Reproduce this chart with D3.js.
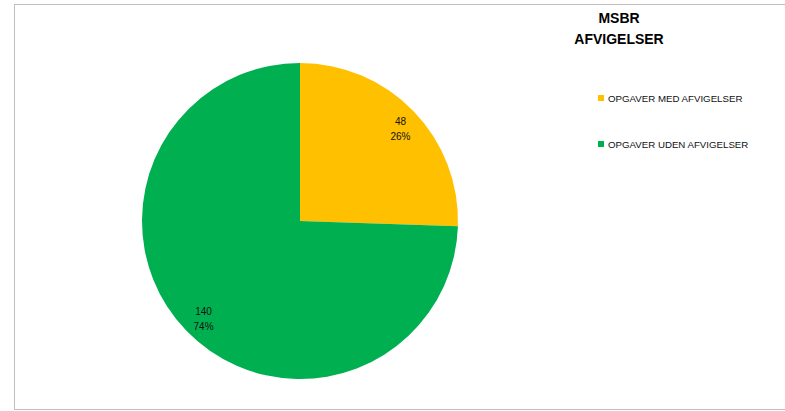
<!DOCTYPE html>
<html><head><meta charset="utf-8">
<script src="https://cdn.jsdelivr.net/npm/d3@7"></script>
<style>html,body{margin:0;padding:0;background:#fff;}svg{display:block;}</style>
</head><body>
<svg id="chart" width="785" height="411"></svg>
<script>
const categories = ["OPGAVER MED AFVIGELSER", "OPGAVER UDEN AFVIGELSER"];
const values = [48, 140];
const percentLabels = ["26%", "74%"];
const colors = ["#FFC000", "#00B050"];
const titleLines = ["MSBR", "AFVIGELSER"];

const svg = d3.select("#chart");
const font = "'Liberation Sans', Arial, sans-serif";

// frame
svg.append("rect").attr("x", 14.5).attr("y", 4.5).attr("width", 800).attr("height", 405)
  .attr("fill", "#fff").attr("stroke", "#bfbfbf").attr("stroke-width", 1);

const cx = 300, cy = 221, r = 158;
const pie = d3.pie().sort(null).value(d => d)(values);
const arc = d3.arc().innerRadius(0).outerRadius(r);
const labelArc = d3.arc().innerRadius(137).outerRadius(137);

const g = svg.append("g").attr("transform", `translate(${cx},${cy})`);
g.selectAll("path").data(pie).enter().append("path")
  .attr("d", arc).attr("fill", (d, i) => colors[i]);

const lbl = g.selectAll("g.lbl").data(pie).enter().append("g").attr("class", "lbl")
  .attr("transform", d => { const c = labelArc.centroid(d); return `translate(${c[0] + 2},${c[1] + 2})`; });
lbl.append("text").attr("text-anchor", "middle").attr("y", -3)
  .attr("font-family", font).attr("font-size", 10).attr("fill", "#111")
  .text((d, i) => values[i]);
lbl.append("text").attr("text-anchor", "middle").attr("y", 12)
  .attr("font-family", font).attr("font-size", 10).attr("fill", "#111")
  .text((d, i) => percentLabels[i]);

// title
svg.selectAll("text.title").data(titleLines).enter().append("text").attr("class", "title")
  .attr("x", 619).attr("y", (d, i) => 23 + i * 21)
  .attr("text-anchor", "middle").attr("font-family", font).attr("font-weight", "bold")
  .attr("font-size", 14).attr("fill", "#000").text(d => d);

// legend
const leg = svg.selectAll("g.leg").data(categories).enter().append("g").attr("class", "leg")
  .attr("transform", (d, i) => `translate(598,${95 + i * 46})`);
leg.append("rect").attr("width", 6).attr("height", 6).attr("fill", (d, i) => colors[i]);
leg.append("text").attr("x", 10).attr("y", 6.5)
  .attr("font-family", font).attr("font-size", 9.7).attr("fill", "#111").text(d => d);
</script>
</body></html>
